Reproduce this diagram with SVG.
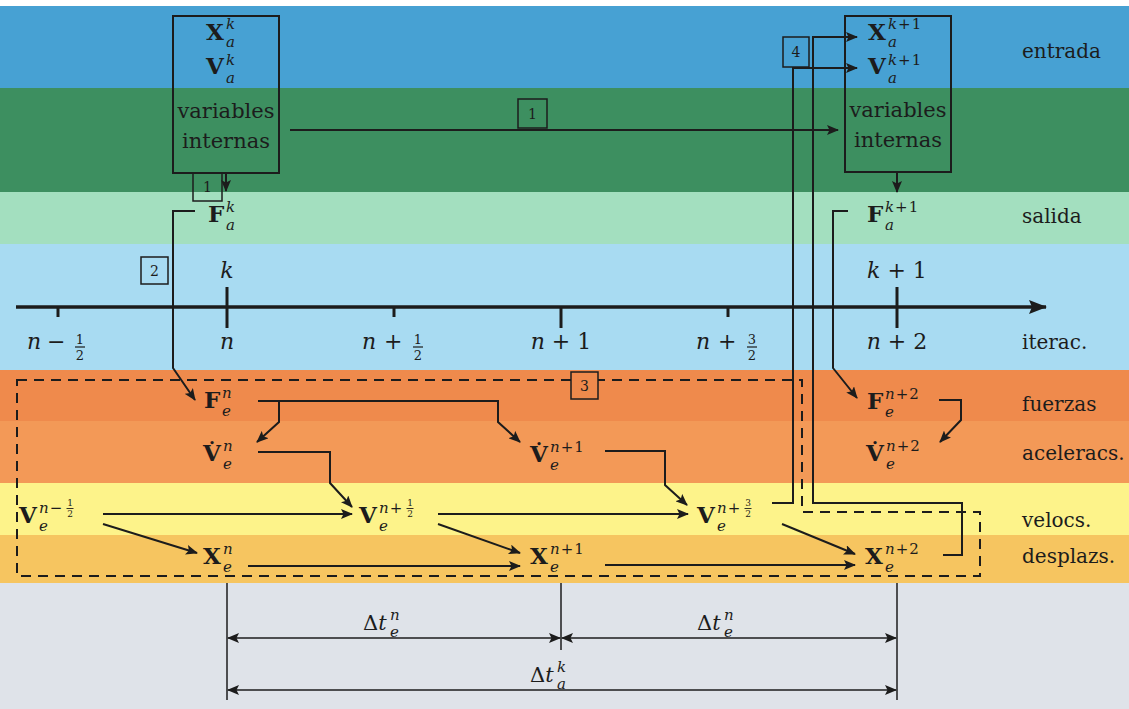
<svg xmlns="http://www.w3.org/2000/svg" width="1129" height="709" viewBox="0 0 1129 709">
<style>
text{fill:#1c1c1c;font-family:"DejaVu Serif",serif}
.b{font-weight:bold;font-size:23px}
.s{font-style:italic;font-size:15px;letter-spacing:1px}
.u{font-style:normal}
.fr{font-size:9px;text-anchor:middle}
.fa{font-size:13px;text-anchor:middle}
.lbl{font-size:20px}
.bx{font-size:21px;text-anchor:middle}
.ax{font-size:22px;text-anchor:middle}
.ax tspan.i{font-style:italic}
.num{font-size:14px;text-anchor:middle}
.c{fill:none;stroke:#1c1c1c;stroke-width:2}
.box{fill:none;stroke:#1c1c1c;stroke-width:2}
.sb{stroke:#1c1c1c;stroke-width:1.5}
.bar{stroke:#1c1c1c;stroke-width:0.9}
.bar2{stroke:#1c1c1c;stroke-width:1.2}
</style>
<defs>
<marker id="ah" viewBox="0 0 12 10" refX="11" refY="5" markerWidth="12" markerHeight="10" markerUnits="userSpaceOnUse" orient="auto-start-reverse"><path d="M0,0 L12,5 L0,10 L2.5,5 z" fill="#1c1c1c"/></marker>
<marker id="ahb" viewBox="0 0 18 14" refX="17" refY="7" markerWidth="18" markerHeight="14" markerUnits="userSpaceOnUse" orient="auto"><path d="M0,0 L18,7 L0,14 L3,7 z" fill="#1c1c1c"/></marker>
</defs>
<!-- bands -->
<g id="bands">
<rect x="0" y="0" width="1129" height="709" fill="#ffffff"/>
<rect x="0" y="6" width="1129" height="82" fill="#47a1d3"/>
<rect x="0" y="88" width="1129" height="104" fill="#3d8f60"/>
<rect x="0" y="192" width="1129" height="52" fill="#a3dfbf"/>
<rect x="0" y="244" width="1129" height="126" fill="#a8dbf2"/>
<rect x="0" y="370" width="1129" height="51" fill="#ef8a4c"/>
<rect x="0" y="421" width="1129" height="62" fill="#f39957"/>
<rect x="0" y="483" width="1129" height="52" fill="#fdf38a"/>
<rect x="0" y="535" width="1129" height="48" fill="#f6c560"/>
<rect x="0" y="583" width="1129" height="126" fill="#dfe3e9"/>
</g>
<!-- row labels -->
<g id="labels" class="lbl">
<text x="1022" y="58">entrada</text>
<text x="1022" y="223">salida</text>
<text x="1022" y="349">iterac.</text>
<text x="1022" y="411">fuerzas</text>
<text x="1022" y="460">aceleracs.</text>
<text x="1022" y="527">velocs.</text>
<text x="1022" y="563">desplazs.</text>
</g>
<!-- axis -->
<g id="axis">
<line x1="16" y1="307" x2="1046" y2="307" stroke="#1c1c1c" stroke-width="3.5" marker-end="url(#ahb)"/>
<line x1="58" y1="307" x2="58" y2="317" stroke="#1c1c1c" stroke-width="3"/>
<line x1="227" y1="287" x2="227" y2="328" stroke="#1c1c1c" stroke-width="3"/>
<line x1="394" y1="307" x2="394" y2="317" stroke="#1c1c1c" stroke-width="3"/>
<line x1="561" y1="307" x2="561" y2="328" stroke="#1c1c1c" stroke-width="3"/>
<line x1="728" y1="307" x2="728" y2="317" stroke="#1c1c1c" stroke-width="3"/>
<line x1="897" y1="287" x2="897" y2="328" stroke="#1c1c1c" stroke-width="3"/>
<text class="ax" x="227" y="278"><tspan class="i">k</tspan></text>
<text class="ax" x="897" y="278"><tspan class="i">k</tspan> + 1</text>
<text x="27" y="349" font-size="22" font-style="italic">n</text>
<text x="47" y="349" font-size="22">−</text>
<text class="fa" x="80" y="344">1</text><line class="bar2" x1="75" y1="347" x2="85" y2="347"/><text class="fa" x="80" y="360">2</text>
<text class="ax" x="227" y="349"><tspan class="i">n</tspan></text>
<text x="362" y="349" font-size="22" font-style="italic">n</text>
<text x="384" y="349" font-size="22">+</text>
<text class="fa" x="418" y="344">1</text><line class="bar2" x1="413" y1="347" x2="423" y2="347"/><text class="fa" x="418" y="360">2</text>
<text class="ax" x="561" y="349"><tspan class="i">n</tspan> + 1</text>
<text x="696" y="349" font-size="22" font-style="italic">n</text>
<text x="718" y="349" font-size="22">+</text>
<text class="fa" x="752" y="344">3</text><line class="bar2" x1="747" y1="347" x2="757" y2="347"/><text class="fa" x="752" y="360">2</text>
<text class="ax" x="897" y="349"><tspan class="i">n</tspan> + 2</text>
</g>
<!-- dashed region -->
<path id="region3" d="M17,380 H802 V512 H980 V576 H17 Z" fill="none" stroke="#1c1c1c" stroke-width="2" stroke-dasharray="10 7"/>
<!-- connectors -->
<g id="connectors">
<path class="c" d="M290,130 H838" marker-end="url(#ah)"/>
<path class="c" d="M226,173 V191" marker-end="url(#ah)"/>
<path class="c" d="M195,211 H173 V368 L195,400" marker-end="url(#ah)"/>
<path class="c" d="M258,401 H498 V422 L520,442" marker-end="url(#ah)"/>
<path class="c" d="M279,401 V422 L257,442" marker-end="url(#ah)"/>
<path class="c" d="M258,452 H330 V483 L352,507" marker-end="url(#ah)"/>
<path class="c" d="M605,451 H665 V485 L687,505" marker-end="url(#ah)"/>
<path class="c" d="M103,514 H352" marker-end="url(#ah)"/>
<path class="c" d="M438,514 H688" marker-end="url(#ah)"/>
<path class="c" d="M103,524 L197,553" marker-end="url(#ah)"/>
<path class="c" d="M248,566 H520" marker-end="url(#ah)"/>
<path class="c" d="M438,524 L520,553" marker-end="url(#ah)"/>
<path class="c" d="M605,565 H855" marker-end="url(#ah)"/>
<path class="c" d="M782,524 L855,554" marker-end="url(#ah)"/>
<path class="c" d="M772,503 H793 V68 H857" marker-end="url(#ah)"/>
<path class="c" d="M943,555 H962 V503 H813 V37 H857" marker-end="url(#ah)"/>
<path class="c" d="M897,172 V192" marker-end="url(#ah)"/>
<path class="c" d="M848,211 H833 V368 L857,398" marker-end="url(#ah)"/>
<path class="c" d="M939,400 H961 V420 L940,442" marker-end="url(#ah)"/>
<!-- dimensions -->
<line class="sb" x1="227" y1="583" x2="227" y2="700"/>
<line class="sb" x1="561" y1="583" x2="561" y2="650"/>
<line class="sb" x1="897" y1="583" x2="897" y2="700"/>
<path class="sb" d="M228,638 H560" marker-start="url(#ah)" marker-end="url(#ah)"/>
<path class="sb" d="M562,638 H896" marker-start="url(#ah)" marker-end="url(#ah)"/>
<path class="sb" d="M228,690 H896" marker-start="url(#ah)" marker-end="url(#ah)"/>
</g>
<!-- number boxes -->
<g id="tag1a"><rect x="518" y="99" width="29" height="29" class="box" style="stroke-width:1.5"/><text class="num" x="532.5" y="119">1</text></g>
<g id="tag1b"><rect x="193" y="173" width="29" height="28" class="box" style="stroke-width:1.5"/><text class="num" x="207.5" y="192">1</text></g>
<g id="tag2"><rect x="141" y="257" width="27" height="27" class="box" style="stroke-width:1.5"/><text class="num" x="154.5" y="276">2</text></g>
<g id="tag3"><rect x="571" y="372" width="27" height="27" fill="#ef8a4c" stroke="#1c1c1c" stroke-width="1.5"/><text class="num" x="584.5" y="391">3</text></g>
<g id="tag4"><rect x="783" y="37" width="26" height="30" fill="#47a1d3" stroke="#1c1c1c" stroke-width="1.5"/><text class="num" x="796" y="57">4</text></g>
<!-- agent boxes -->
<g id="agent_k">
<rect x="173" y="16" width="106" height="157" class="box"/>
<text class="b" x="206" y="40">X</text><text class="s" x="226" y="29">k</text><text class="s" x="226" y="47">a</text>
<text class="b" x="206" y="74">V</text><text class="s" x="226" y="65">k</text><text class="s" x="226" y="83">a</text>
<text class="bx" x="226" y="118">variables</text>
<text class="bx" x="226" y="148">internas</text>
</g>
<g id="agent_k1">
<rect x="845" y="16" width="106" height="156" class="box"/>
<text class="b" x="868" y="40">X</text><text class="s" x="888" y="29">k<tspan class="u">+1</tspan></text><text class="s" x="888" y="47">a</text>
<text class="b" x="868" y="74">V</text><text class="s" x="888" y="65">k<tspan class="u">+1</tspan></text><text class="s" x="888" y="83">a</text>
<text class="bx" x="898" y="117">variables</text>
<text class="bx" x="898" y="147">internas</text>
</g>
<g id="Fak"><text class="b" x="208" y="222">F</text><text class="s" x="226" y="212">k</text><text class="s" x="226" y="230">a</text></g>
<g id="Fak1"><text class="b" x="867" y="222">F</text><text class="s" x="885" y="212">k<tspan class="u">+1</tspan></text><text class="s" x="885" y="230">a</text></g>
<!-- element nodes -->
<g id="Fen"><text class="b" x="204" y="408">F</text><text class="s" x="222" y="398">n</text><text class="s" x="222" y="416">e</text></g>
<g id="Vdn"><text class="b" x="203" y="461">V&#x307;</text><text class="s" x="223" y="451">n</text><text class="s" x="223" y="469">e</text></g>
<g id="Vdn1"><text class="b" x="530" y="462">V&#x307;</text><text class="s" x="550" y="452">n<tspan class="u">+1</tspan></text><text class="s" x="550" y="470">e</text></g>
<g id="Fen2"><text class="b" x="867" y="409">F</text><text class="s" x="885" y="399">n<tspan class="u">+2</tspan></text><text class="s" x="885" y="417">e</text></g>
<g id="Vdn2"><text class="b" x="866" y="461">V&#x307;</text><text class="s" x="886" y="451">n<tspan class="u">+2</tspan></text><text class="s" x="886" y="469">e</text></g>
<g id="Vnm"><text class="b" x="19" y="523">V</text><text class="s" x="39" y="513">n<tspan class="u">−</tspan></text><text class="fr" x="70" y="506">1</text><line class="bar" x1="66.5" y1="508.5" x2="73.5" y2="508.5"/><text class="fr" x="70" y="517">2</text><text class="s" x="39" y="531">e</text></g>
<g id="Vnp"><text class="b" x="359" y="523">V</text><text class="s" x="379" y="513">n<tspan class="u">+</tspan></text><text class="fr" x="410" y="506">1</text><line class="bar" x1="406.5" y1="508.5" x2="413.5" y2="508.5"/><text class="fr" x="410" y="517">2</text><text class="s" x="379" y="531">e</text></g>
<g id="Vnp3"><text class="b" x="697" y="523">V</text><text class="s" x="717" y="513">n<tspan class="u">+</tspan></text><text class="fr" x="748" y="506">3</text><line class="bar" x1="744.5" y1="508.5" x2="751.5" y2="508.5"/><text class="fr" x="748" y="517">2</text><text class="s" x="717" y="531">e</text></g>
<g id="Xn"><text class="b" x="203" y="564">X</text><text class="s" x="223" y="554">n</text><text class="s" x="223" y="572">e</text></g>
<g id="Xn1"><text class="b" x="530" y="564">X</text><text class="s" x="550" y="554">n<tspan class="u">+1</tspan></text><text class="s" x="550" y="572">e</text></g>
<g id="Xn2"><text class="b" x="865" y="564">X</text><text class="s" x="885" y="554">n<tspan class="u">+2</tspan></text><text class="s" x="885" y="572">e</text></g>
<!-- dimension labels -->
<g id="dt1"><text x="363" y="630" font-size="21">Δ<tspan font-style="italic">t</tspan></text><text class="s" x="390" y="620">n</text><text class="s" x="390" y="637">e</text></g>
<g id="dt2"><text x="697" y="630" font-size="21">Δ<tspan font-style="italic">t</tspan></text><text class="s" x="724" y="620">n</text><text class="s" x="724" y="637">e</text></g>
<g id="dt3"><text x="530" y="682" font-size="21">Δ<tspan font-style="italic">t</tspan></text><text class="s" x="557" y="672">k</text><text class="s" x="557" y="689">a</text></g>
</svg>
